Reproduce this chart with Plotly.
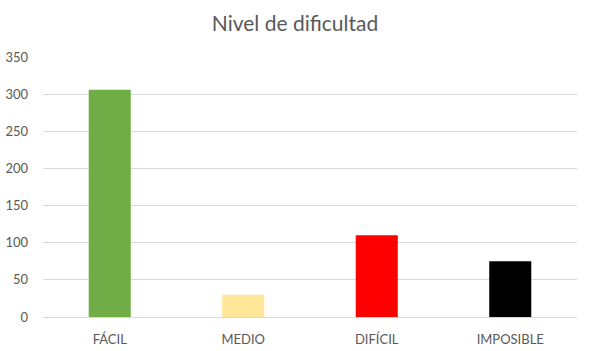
import plotly.graph_objects as go

categories = ["FÁCIL", "MEDIO", "DIFÍCIL", "IMPOSIBLE"]
values = [306, 30, 110, 75]
colors = ["#70AD47", "#FFE699", "#FF0000", "#000000"]
y_ticks = [0, 50, 100, 150, 200, 250, 300, 350]

fig = go.Figure(go.Bar(x=categories, y=values, marker=dict(color=colors, line=dict(width=0))))

fig.update_layout(
    width=590, height=351,
    margin=dict(l=43, r=13, t=57, b=34),
    paper_bgcolor="white", plot_bgcolor="white",
    bargap=0.685,
    showlegend=False,
    font=dict(family="Lato, sans-serif", color="#595959", size=13),
    title=dict(text="Nivel de dificultad", x=0.5, xanchor="center", y=0.932, yanchor="middle",
               font=dict(size=21, color="#595959", family="Lato, sans-serif")),
)
fig.update_yaxes(range=[0, 350], tickvals=y_ticks, showgrid=True, gridcolor="#D9D9D9", gridwidth=1,
                 zeroline=False, showline=False, ticks="", ticklabelstandoff=14, automargin=False)
fig.update_xaxes(showline=True, linecolor="#D9D9D9", linewidth=1, ticks="", ticklabelstandoff=10,
                 automargin=False)

fig.write_html("out.html")
